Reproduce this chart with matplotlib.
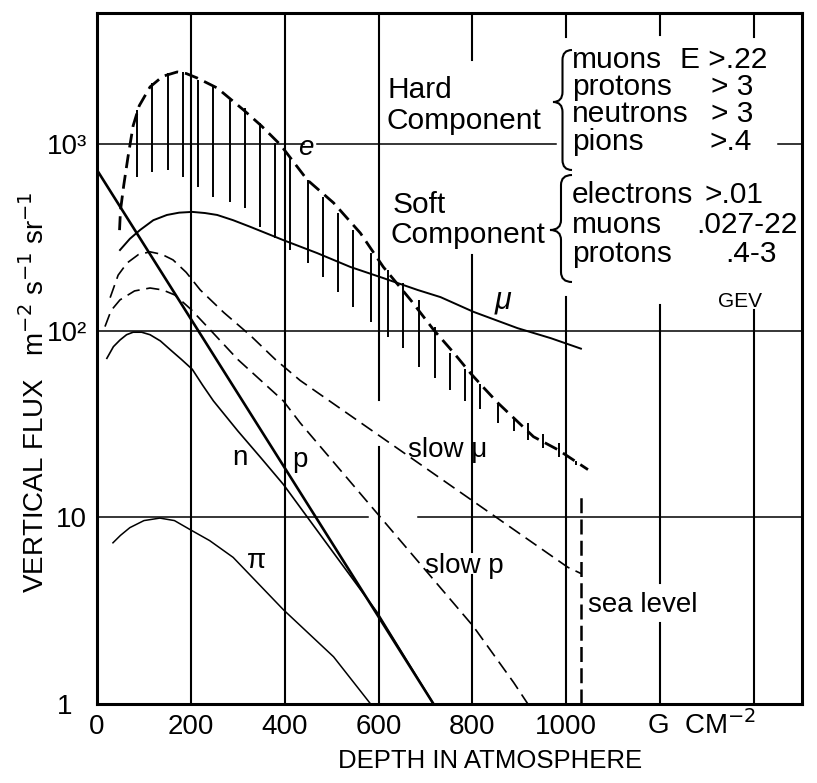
import numpy as np
import matplotlib
matplotlib.use('Agg')
import matplotlib.pyplot as plt
from matplotlib.path import Path
from matplotlib.patches import PathPatch

plt.rcParams['font.family'] = ['Liberation Sans', 'DejaVu Sans']

W, H = 817, 783

# Curves (depth g/cm2, vertical flux)
e_x = [48, 50, 57, 66, 77, 90, 113, 140, 171, 190, 213, 256, 312, 350, 391, 448, 504, 561, 610, 668, 717,
       760, 796, 822, 854, 888, 930, 982, 1046]
e_y = [345, 440, 600, 850, 1250, 1600, 2017, 2300, 2427, 2380, 2255, 1992, 1520, 1250, 987, 641, 483, 333,
       219, 146, 101, 76, 59, 50, 41, 34, 27, 23, 18]

mu_x = [49, 70, 92, 120, 149, 175, 203, 230, 256, 290, 327, 397, 469, 540, 610, 683, 732, 802, 896, 967, 1031]
mu_y = [270, 310, 346, 390, 416, 428, 432, 426, 416, 390, 359, 305, 260, 219, 191, 165, 151, 126, 103, 91, 80]

n_x = [21, 35, 49, 63, 77, 95, 113, 135, 156, 180, 203, 225, 248, 300, 350, 397, 598, 717]
n_y = [71, 82, 89, 95, 98, 98, 95, 88, 79, 70, 62, 51, 42, 29, 20.7, 15, 3.07, 1.0]

p_x = [0, 717]
p_y = [724, 1.0]

pi_x = [34, 50, 70, 100, 134, 165, 198, 240, 290, 397, 504, 583]
pi_y = [7.3, 8.0, 8.8, 9.6, 9.9, 9.6, 8.6, 7.5, 6.1, 3.2, 1.79, 1.0]

slow_mu_x = [28, 45, 64, 88, 113, 138, 162, 190, 220, 270, 327, 380, 433, 1003, 1031]
slow_mu_y = [150, 198, 230, 255, 264, 256, 239, 205, 165, 125, 94, 70, 54, 5.4, 5.0]

slow_p_x = [17, 30, 49, 80, 113, 140, 166, 200, 241, 300, 397, 433, 802, 888, 918]
slow_p_y = [105, 128, 146, 163, 169, 165, 155, 130, 101, 70, 42, 32, 2.6, 1.3, 1.0]

# hatching under the electron curve
hatch_x = [85, 117, 152, 184, 216, 248, 284, 316, 348, 380, 412, 450, 482, 514, 546,
           583, 619, 651, 685, 721, 753, 785, 817, 854, 888, 918, 950, 984, 1020]
hatch_top = [1514, 2118, 2399, 2427, 2198, 2018, 1718, 1549, 1288, 1012, 851, 641, 520, 427, 346,
             261, 211, 180, 146, 105, 76, 62, 52, 41, 34, 32, 28, 25, 20]
hatch_bot = [665, 708, 724, 665, 589, 520, 490, 454, 359, 313, 269, 230, 194, 161, 134,
             111, 92, 81, 64, 56, 48, 42, 38, 32, 29, 26, 23.5, 21, 19]

sea_level = 1031

x_ticks = [0, 200, 400, 600, 800, 1000]
y_ticks = [1, 10, 100, 1000]
y_labels = ['1', '10', '10²', '10³']

hard_names = ['muons', 'protons', 'neutrons', 'pions']
hard_cuts = ['E >.22', '> 3', '> 3', '>.4']
soft_names = ['electrons', 'muons', 'protons']
soft_cuts = ['>.01', '.027-22', '.4-3']


def fx(x):
    return x / W


def fy(y):
    return 1 - y / H


fig = plt.figure(figsize=(W / 100, H / 100), dpi=100)
ax = fig.add_axes([fx(97), fy(704), fx(802) - fx(97), fy(13) - fy(704)])
ax.set_yscale('log')
ax.set_xlim(0, 1502)
ax.set_ylim(1, 5020)

# grid lines, broken where the original has gaps
hgrid = [(1000, [(0, 440), (469, 977), (1451, 1502)]),
         (100, [(0, 1502)]),
         (10, [(0, 578), (683, 1502)])]
for yv, segs in hgrid:
    for a, b in segs:
        ax.plot([a, b], [yv, yv], color='black', lw=1.1)

vgrid = [(200, [(1, 5020)]),
         (400, [(1, 5020)]),
         (600, [(1, 23.8), (42.5, 5020)]),
         (800, [(1, 4.9), (6.5, 254), (2813, 5020)]),
         (1000, [(1, 151), (3737, 5020)]),
         (1200, [(1, 2.72), (4.45, 137), (3830, 5020)]),
         (1400, [(1, 129), (3737, 5020)])]
for xv, segs in vgrid:
    for a, b in segs:
        ax.plot([xv, xv], [a, b], color='black', lw=1.5)

# curves
ax.plot(e_x, e_y, color='black', lw=2.0, dashes=(5, 2.5))
ax.vlines(hatch_x, hatch_bot, hatch_top, color='black', lw=1.4)
ax.plot(mu_x, mu_y, color='black', lw=1.4)
ax.plot(n_x, n_y, color='black', lw=1.2)
ax.plot(p_x, p_y, color='black', lw=1.9)
ax.plot(pi_x, pi_y, color='black', lw=1.1)
ax.plot(slow_mu_x, slow_mu_y, color='black', lw=1.2, dashes=(8, 4))
ax.plot(slow_p_x, slow_p_y, color='black', lw=1.2, dashes=(8, 4))
ax.plot([sea_level, sea_level], [1, 13.5], color='black', lw=1.8, dashes=(6, 2.5))

for s in ax.spines.values():
    s.set_linewidth(2.2)
ax.set_xticks(x_ticks)
ax.set_xticklabels([str(v) for v in x_ticks], fontsize=20)
ax.set_yticks(y_ticks)
ax.set_yticklabels(y_labels, fontsize=20)
ax.minorticks_off()
ax.tick_params(length=0, pad=7)
ax.yaxis.get_major_ticks()[0].set_pad(18)

fs = 20


def lab(x, y, s, size=fs, ha='left', **kw):
    fig.text(fx(x), fy(y), s, fontsize=size, ha=ha, va='baseline', **kw)


# curve labels
lab(298, 155, 'e', style='italic')
lab(495, 308, 'μ', size=22, style='italic')
lab(232, 465, 'n')
lab(292, 467, 'p')
lab(247, 568, 'π')
lab(408, 457, 'slow μ')
lab(425, 573, 'slow p')
lab(588, 612, 'sea level')

lfs = 21.5
lab(387, 98, 'Hard', size=lfs)
lab(387, 129, 'Component', size=lfs)
lab(393, 213, 'Soft', size=lfs)
lab(390, 243, 'Component', size=lfs)

hard_base = [68, 95, 122, 150]
hard_right = [767, 753, 753, 752]
for name, cut, yb, xr in zip(hard_names, hard_cuts, hard_base, hard_right):
    lab(572, yb, name, size=lfs)
    lab(xr, yb, cut, size=lfs, ha='right')
soft_base = [203, 233, 262]
soft_right = [763, 798, 777]
for name, cut, yb, xr in zip(soft_names, soft_cuts, soft_base, soft_right):
    lab(572, yb, name, size=lfs)
    lab(xr, yb, cut, size=lfs, ha='right')
lab(740, 307, 'GEV', size=15, ha='center')

lab(647, 734, 'G  CM$^{-2}$')


def brace(x_tip, x_end, y_top, y_mid, y_bot, r=10):
    xm = (x_tip + x_end) / 2
    pts = [(x_end, y_top), (xm, y_top), (xm, y_top + r), (xm, y_mid - r),
           (xm, y_mid), (x_tip, y_mid), (xm, y_mid), (xm, y_mid + r),
           (xm, y_bot - r), (xm, y_bot), (x_end, y_bot)]
    codes = [Path.MOVETO, Path.CURVE3, Path.CURVE3, Path.LINETO,
             Path.CURVE3, Path.CURVE3, Path.CURVE3, Path.CURVE3,
             Path.LINETO, Path.CURVE3, Path.CURVE3]
    verts = [(fx(a), fy(b)) for a, b in pts]
    fig.patches.append(PathPatch(Path(verts, codes), transform=fig.transFigure,
                                 fill=False, lw=1.5, color='black'))


brace(553, 572, 50, 102, 170)
brace(550, 572, 175, 230, 282)

fig.text(fx(35), fy(392), 'VERTICAL FLUX   m$^{-2}$ s$^{-1}$ sr$^{-1}$', rotation=90,
         ha='center', va='center', fontsize=20)
fig.text(fx(490), fy(761), 'DEPTH IN ATMOSPHERE', ha='center', va='center', fontsize=18.5)

fig.savefig('out.png', dpi=100)
